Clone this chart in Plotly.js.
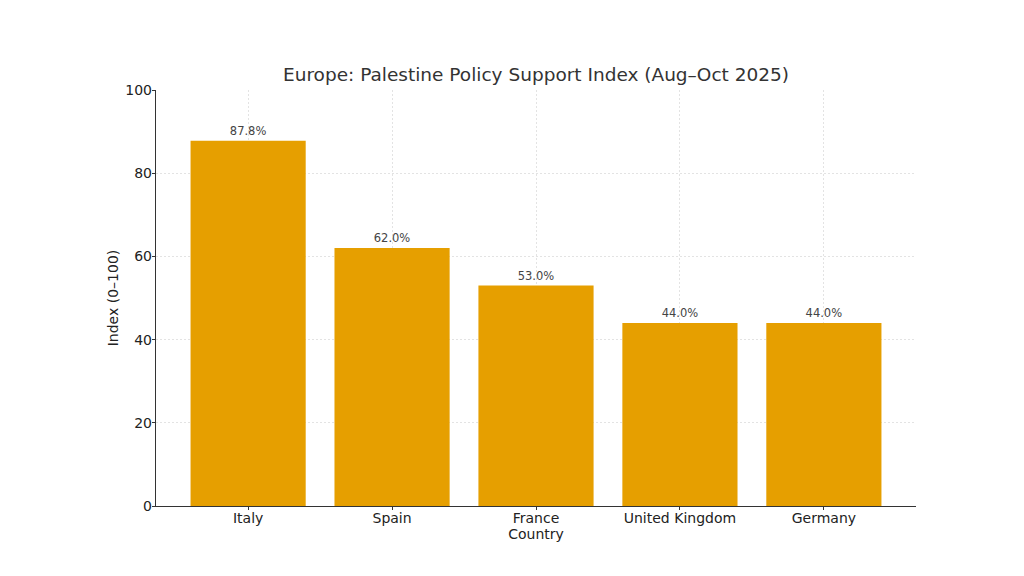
<!DOCTYPE html>
<html><head><meta charset="utf-8">
<script src="https://cdn.plot.ly/plotly-3.0.1.min.js"></script>
<style>html,body{margin:0;padding:0;background:#fff}</style>
</head><body>
<div id="chart" style="width:1024px;height:576px"></div>
<script>
const countries = ["Italy", "Spain", "France", "United Kingdom", "Germany"];
const indexValues = [87.8, 62.0, 53.0, 44.0, 44.0];
const valueLabels = indexValues.map(v => v.toFixed(1) + "%");

const font = "DejaVu Sans, sans-serif";
Plotly.newPlot("chart", [{
  type: "bar",
  x: countries,
  y: indexValues,
  width: 0.8,
  marker: {color: "#E69F00", line: {width: 0}},
  text: valueLabels,
  textposition: "outside",
  cliponaxis: false,
  textfont: {family: font, size: 11.5, color: "#444"},
  hoverinfo: "none"
}], {
  width: 1024, height: 576,
  margin: {l: 156, r: 108, t: 90, b: 70},
  paper_bgcolor: "#fff", plot_bgcolor: "#fff",
  font: {family: font, color: "#222"},
  title: {text: "Europe: Palestine Policy Support Index (Aug–Oct 2025)", font: {family: font, size: 18.5, color: "#333"}, xref: "paper", x: 0.5, xanchor: "center", y: 0.87, yanchor: "middle"},
  showlegend: false,
  bargap: 0.2,
  xaxis: {
    range: [-0.64, 4.64],
    showline: true, linecolor: "#333", linewidth: 1.2,
    ticks: "outside", ticklen: 3, tickcolor: "#333",
    ticklabelstandoff: -4,
    showgrid: true, gridcolor: "#dcdcdc", griddash: "2px,2px", gridwidth: 0.8,
    tickfont: {family: font, size: 14, color: "#222"},
    title: {text: "Country", font: {family: font, size: 14, color: "#222"}, standoff: 0},
    layer: "above traces", fixedrange: true
  },
  yaxis: {
    range: [0, 100],
    tickvals: [0, 20, 40, 60, 80, 100],
    showline: true, linecolor: "#333", linewidth: 1.2,
    ticks: "outside", ticklen: 3, tickcolor: "#333",
    ticklabelstandoff: -3,
    showgrid: true, gridcolor: "#dcdcdc", griddash: "2px,2px", gridwidth: 0.8,
    zeroline: false,
    tickfont: {family: font, size: 14, color: "#222"},
    title: {text: "Index (0–100)", font: {family: font, size: 14, color: "#222"}, standoff: 3},
    layer: "above traces", fixedrange: true
  }
}, {displayModeBar: false, staticPlot: true});
</script>
</body></html>
